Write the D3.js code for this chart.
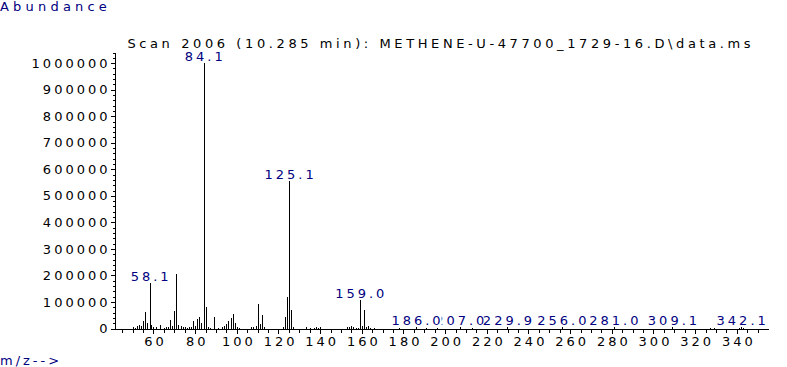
<!DOCTYPE html>
<html>
<head>
<meta charset="utf-8">
<script src="https://cdn.jsdelivr.net/npm/d3@7"></script>
<style>
  body { margin: 0; background: #fff; }
  text { font-family: "DejaVu Sans", sans-serif; font-size: 13px; letter-spacing: 3px; }
</style>
</head>
<body>
<svg class="chart" width="787" height="367"></svg>
<script>
var titleText = "Scan 2006 (10.285 min): METHENE-U-47700_1729-16.D\\data.ms";

// m/z of each line and its abundance
var peakMz = [50, 51, 52, 53, 54, 55, 56, 57, 58.1, 59, 60, 61, 63, 65, 66, 67, 68, 69, 70, 71,
    72, 73, 74, 75, 76, 77, 78, 79, 80, 81, 82, 83, 84.1, 85, 86, 87, 89, 91, 93, 94,
    95, 96, 97, 98, 99, 100, 101, 107, 108, 109, 110, 111, 112, 113, 122, 123, 124, 125.1, 126, 127,
    133, 135, 137, 138, 139, 140, 153, 154, 155, 156, 157, 158, 159.0, 160, 161, 162, 163, 164, 166,
    178, 186.0, 191, 196, 207.0, 213, 229.9, 256.0, 281.0, 309.1, 327, 329, 341, 342.1, 343];
var peakAbund = [4000, 3000, 8000, 15000, 10000, 30000, 63000, 19000, 172000, 13000, 4000, 6000, 12000, 3000, 5000, 4000, 33000, 11000, 65000, 205000,
    15000, 10000, 5000, 4000, 3000, 5000, 7000, 28000, 10000, 35000, 45000, 20000, 1000000, 80000, 5000, 3000, 42000, 3000, 4000, 10000,
    18000, 28000, 38000, 53000, 20000, 4000, 3000, 5000, 7000, 10000, 92000, 18000, 50000, 5000, 5000, 44000, 118000, 555000, 68000, 6000,
    5000, 3000, 3000, 5000, 3000, 5000, 6000, 5000, 8000, 5000, 3000, 3000, 108000, 10000, 68000, 6000, 10000, 3000, 3000,
    3000, 6000, 3000, 2000, 4000, 2000, 5000, 5000, 5000, 4500, 3000, 3000, 3000, 5000, 3000];

// peaks that carry a label
var labelMz = [58.1, 84.1, 125.1, 159.0, 186.0, 207.0, 229.9, 256.0, 281.0, 309.1, 342.1];

var yTicks = [0, 100000, 200000, 300000, 400000, 500000, 600000, 700000, 800000, 900000, 1000000];
var xTicks = [60, 80, 100, 120, 140, 160, 180, 200, 220, 240, 260, 280, 300, 320, 340];

var navy = "#000080";
var svg = d3.select(".chart");

var x = d3.scaleLinear().domain([40.8, 355]).range([113.5, 768]);
var y = d3.scaleLinear().domain([0, 1042000]).range([328.5, 52]);

// y axis: minor then major
svg.append("g")
    .attr("transform", "translate(114.5,0)")
    .call(d3.axisLeft(y).tickValues(d3.range(0, 1040001, 20000)).tickSize(2).tickSizeOuter(0).tickFormat(""));
var yAxis = svg.append("g")
    .attr("transform", "translate(114.5,0)")
    .call(d3.axisLeft(y).tickValues(yTicks).tickSize(4).tickSizeOuter(0).tickPadding(0)
        .tickFormat(d3.format("d")));

// x axis
svg.append("g")
    .attr("transform", "translate(0,328.5)")
    .call(d3.axisBottom(x).tickValues(d3.range(45, 355, 5)).tickSize(4).tickSizeOuter(0).tickFormat(""));
var xAxis = svg.append("g")
    .attr("transform", "translate(0,328.5)")
    .call(d3.axisBottom(x).tickValues(xTicks).tickSize(5).tickSizeOuter(0).tickPadding(3));

svg.selectAll(".tick line, .domain").attr("stroke", "#000").attr("shape-rendering", "crispEdges");
svg.selectAll(".tick text")
    .attr("font-family", null).attr("font-size", null)
    .attr("fill", "#000");
xAxis.selectAll(".tick text").attr("dx", "0.12em");

// spectrum lines
svg.append("g").selectAll("line")
    .data(peakMz)
    .enter().append("line")
    .attr("x1", function(d) { return Math.round(x(d)) + 0.5; })
    .attr("x2", function(d) { return Math.round(x(d)) + 0.5; })
    .attr("y1", y(0))
    .attr("y2", function(d, i) { return y(peakAbund[i]); })
    .attr("stroke", "#000")
    .attr("shape-rendering", "crispEdges");

// peak labels, drawn weakest first with a white box behind
var labels = labelMz.map(function(m) {
    return { mz: m, abund: peakAbund[peakMz.indexOf(m)] };
}).sort(function(a, b) { return a.abund - b.abund; });

var lab = svg.append("g").selectAll("g")
    .data(labels)
    .enter().append("g")
    .attr("transform", function(d) {
        return "translate(" + x(d.mz) + "," + (y(d.abund) - 2) + ")";
    });

lab.append("text")
    .attr("text-anchor", "middle")
    .attr("dx", "0.12em")
    .attr("fill", navy)
    .text(function(d) { return d3.format(".1f")(d.mz); });

lab.each(function() {
    var g = d3.select(this);
    var bb = g.select("text").node().getBBox();
    g.insert("rect", "text")
        .attr("x", bb.x + 1)
        .attr("y", -10)
        .attr("width", bb.width - 3)
        .attr("height", 11)
        .attr("fill", "#fff");
});

// titles
svg.append("text")
    .attr("x", (x.range()[0] + x.range()[1]) / 2)
    .attr("y", 48)
    .attr("text-anchor", "middle")
    .attr("fill", "#000")
    .style("letter-spacing", "3.6px")
    .text(titleText);

svg.append("text")
    .attr("x", 0)
    .attr("y", 11)
    .attr("fill", navy)
    .style("letter-spacing", "4.2px")
    .text("Abundance");

svg.append("text")
    .attr("x", 0)
    .attr("y", 365)
    .attr("fill", navy)
    .text("m/z-->");
</script>
</body>
</html>
